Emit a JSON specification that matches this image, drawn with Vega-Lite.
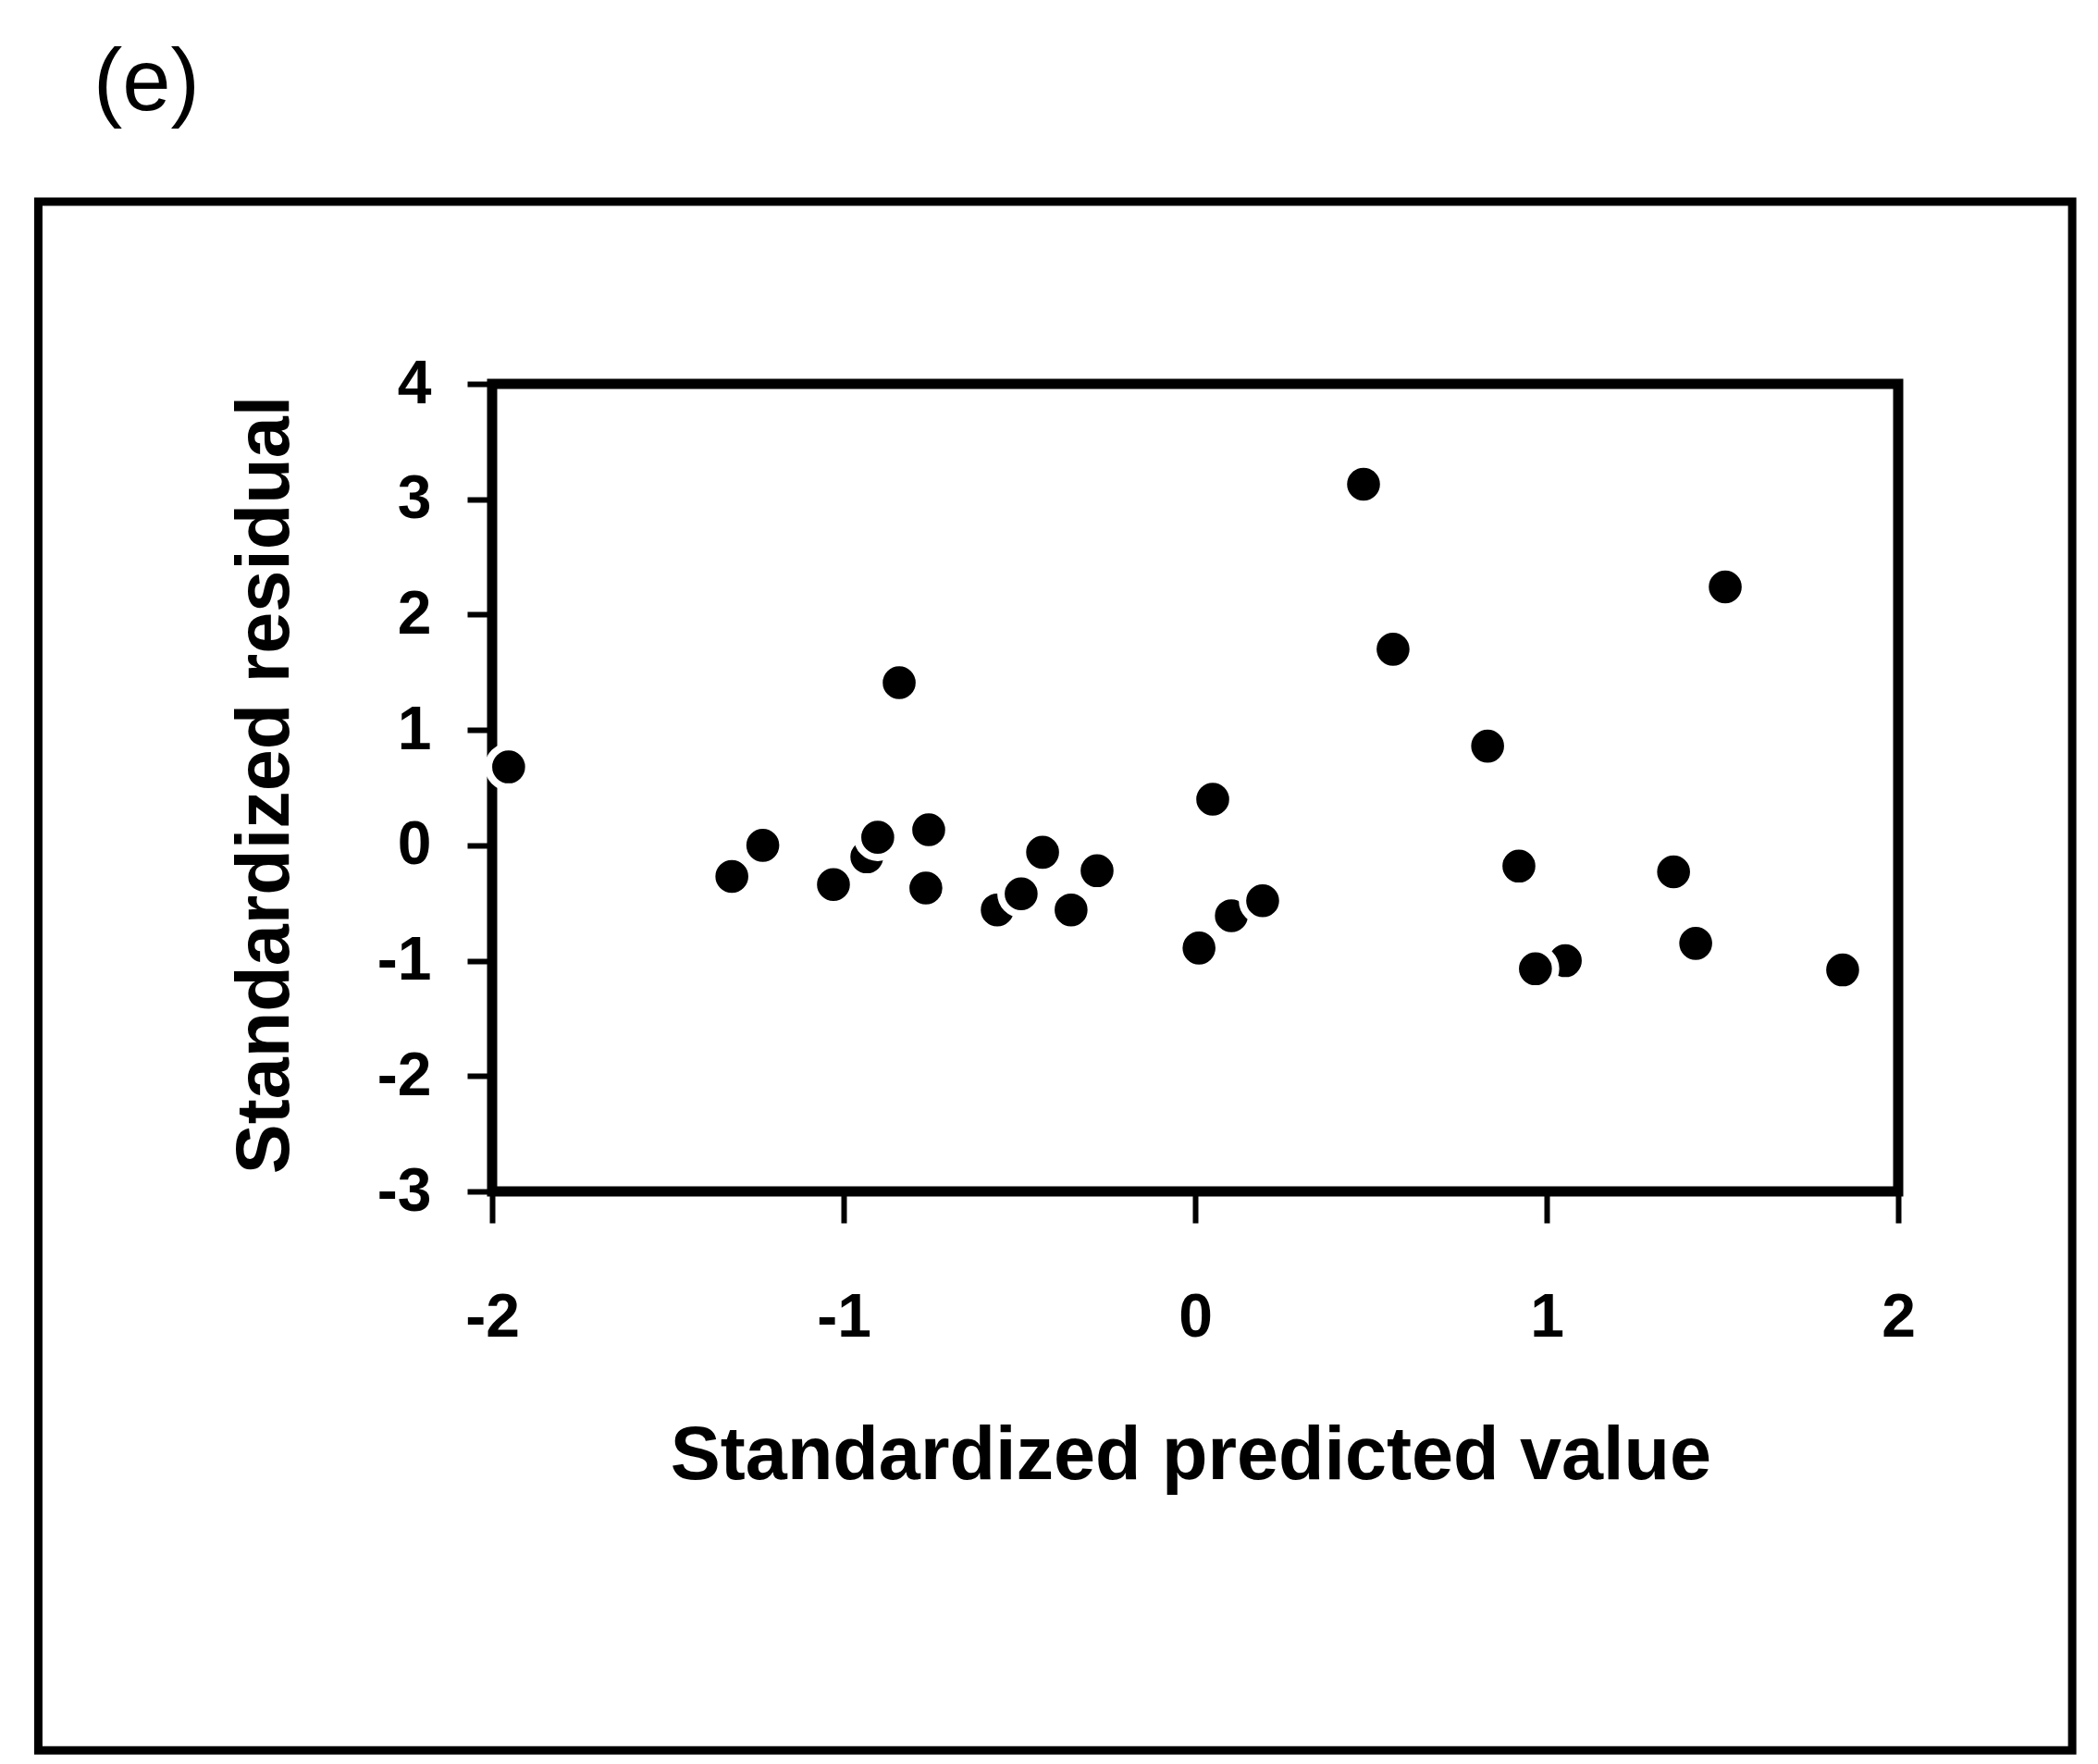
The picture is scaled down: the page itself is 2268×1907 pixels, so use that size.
{
  "$schema": "https://vega.github.io/schema/vega-lite/v6.json",
  "width": 1520,
  "height": 873,
  "autosize": {"type": "none"},
  "padding": {"left": 532, "top": 415, "right": 216, "bottom": 619},
  "background": "white",
  "title": {"text": "(e)", "anchor": "start", "frame": "group", "dx": -431, "offset": 0, "fontSize": 94, "font": "Liberation Sans", "fontWeight": "normal", "baseline": "alphabetic", "color": "black"},
  "config": {"view": {"stroke": "black", "strokeWidth": 11}},
  "datasets": {
    "frame": [{"left": -3.291, "right": 2.495, "top": 5.58, "bottom": -7.845}],
    "points": [
      {"predicted": -1.23, "residual": 0.0},
      {"predicted": -0.934, "residual": -0.10},
      {"predicted": -0.903, "residual": 0.07},
      {"predicted": -0.563, "residual": -0.56},
      {"predicted": 0.103, "residual": -0.61},
      {"predicted": 1.053, "residual": -1.0},
      {"predicted": -1.953, "residual": 0.68},
      {"predicted": -1.318, "residual": -0.27},
      {"predicted": -1.029, "residual": -0.34},
      {"predicted": -0.842, "residual": 1.41},
      {"predicted": -0.758, "residual": 0.135},
      {"predicted": -0.766, "residual": -0.37},
      {"predicted": -0.495, "residual": -0.42},
      {"predicted": -0.434, "residual": -0.06},
      {"predicted": -0.353, "residual": -0.56},
      {"predicted": -0.279, "residual": -0.22},
      {"predicted": 0.011, "residual": -0.89},
      {"predicted": 0.05, "residual": 0.40},
      {"predicted": 0.192, "residual": -0.48},
      {"predicted": 0.479, "residual": 3.13},
      {"predicted": 0.563, "residual": 1.70},
      {"predicted": 0.832, "residual": 0.86},
      {"predicted": 0.921, "residual": -0.18},
      {"predicted": 0.968, "residual": -1.07},
      {"predicted": 1.361, "residual": -0.23},
      {"predicted": 1.424, "residual": -0.85},
      {"predicted": 1.508, "residual": 2.24},
      {"predicted": 1.842, "residual": -1.08}
    ]
  },
  "layer": [
    {
      "data": {"name": "frame"},
      "mark": {"type": "rect", "fill": "transparent", "stroke": "black", "strokeWidth": 9, "clip": false},
      "encoding": {
        "x": {"field": "left", "type": "quantitative", "scale": {"domain": [-2, 2], "nice": false, "zero": false}, "title": "Standardized predicted value"},
        "x2": {"field": "right"},
        "y": {"field": "top", "type": "quantitative", "scale": {"domain": [-3, 4], "nice": false, "zero": false}, "title": "Standardized residual"},
        "y2": {"field": "bottom"}
      }
    },
    {
      "data": {"name": "points"},
      "mark": {"type": "point", "shape": "circle", "filled": true, "fill": "black", "stroke": "white", "strokeWidth": 8, "size": 1900, "opacity": 1, "strokeOpacity": 1, "fillOpacity": 1},
      "encoding": {
        "x": {
          "field": "predicted", "type": "quantitative",
          "scale": {"domain": [-2, 2], "nice": false, "zero": false},
          "axis": {
            "title": "Standardized predicted value",
            "values": [-2, -1, 0, 1, 2],
            "labelExpr": "datum.value < 0 ? '-' + abs(datum.value) : '' + datum.value",
            "grid": false, "domain": false,
            "tickColor": "black", "tickWidth": 6, "tickSize": 34,
            "labelFont": "Liberation Sans", "labelFontWeight": "bold", "labelFontSize": 66, "labelColor": "black", "labelPadding": 70,
            "labelFlush": false, "labelOverlap": false,
            "titleFont": "Liberation Sans", "titleFontWeight": "bold", "titleFontSize": 81, "titleColor": "black",
            "titleX": 755, "titleY": 310, "titleBaseline": "alphabetic", "titleAlign": "center"
          }
        },
        "y": {
          "field": "residual", "type": "quantitative",
          "scale": {"domain": [-3, 4], "nice": false, "zero": false},
          "axis": {
            "title": "Standardized residual",
            "values": [-3, -2, -1, 0, 1, 2, 3, 4],
            "labelExpr": "datum.value < 0 ? '-' + abs(datum.value) : '' + datum.value",
            "grid": false, "domain": false,
            "tickColor": "black", "tickWidth": 6, "tickSize": 27,
            "labelFont": "Liberation Sans", "labelFontWeight": "bold", "labelFontSize": 66, "labelColor": "black", "labelPadding": 39,
            "labelFlush": false, "labelOverlap": false,
            "titleFont": "Liberation Sans", "titleFontWeight": "bold", "titleFontSize": 81, "titleColor": "black",
            "titleX": -221, "titleY": 433, "titleBaseline": "alphabetic", "titleAlign": "center", "titleAngle": -90
          }
        }
      }
    }
  ]
}
